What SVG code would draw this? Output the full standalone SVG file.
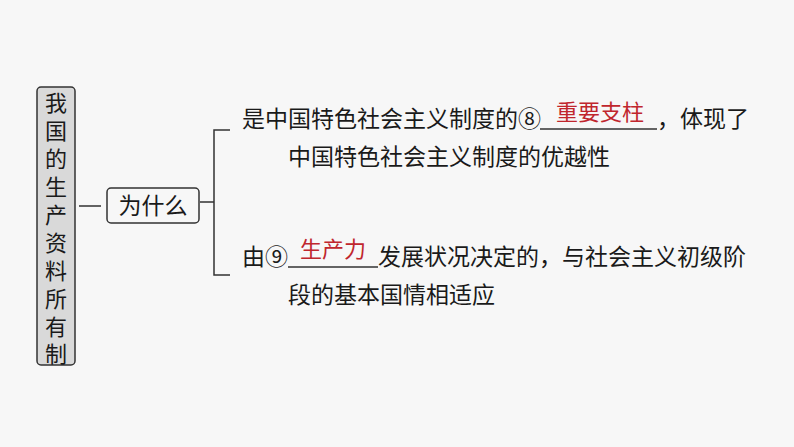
<svg xmlns="http://www.w3.org/2000/svg" width="794" height="447" viewBox="0 0 794 447">
<style>
.t{font-family:"Noto Sans CJK SC","Noto Sans",sans-serif;font-size:23px;fill:#1a1a1a}
.v{font-family:"Noto Sans CJK SC",sans-serif;font-size:22px;fill:#1a1a1a}
.r{font-family:"Noto Sans CJK SC",sans-serif;font-size:22px;fill:#c0262d}
.l{stroke:#333;stroke-width:1.5;fill:none}
</style>
<rect width="794" height="447" fill="#f7f7f7"/>
<g id="root">
<rect x="37" y="87" width="38" height="278" rx="4" fill="#d9d9d9" stroke="#333" stroke-width="1.5"/>
<text class="v" text-anchor="middle"><tspan x="56" y="111">我</tspan><tspan x="56" y="139">国</tspan><tspan x="56" y="167">的</tspan><tspan x="56" y="195">生</tspan><tspan x="56" y="223">产</tspan><tspan x="56" y="251">资</tspan><tspan x="56" y="279">料</tspan><tspan x="56" y="307">所</tspan><tspan x="56" y="335">有</tspan><tspan x="56" y="362">制</tspan></text>
</g>
<g id="why">
<rect x="107" y="188" width="92" height="35" rx="4" fill="#f7f7f7" stroke="#333" stroke-width="1.5"/>
<text class="t" x="153" y="214" text-anchor="middle">为什么</text>
</g>
<g id="connectors">
<path class="l" d="M79 206H101M200 202H214M230 130H214V275H230"/>
</g>
<g id="a1">
<text class="t" x="242" y="127">是中国特色社会主义制度的⑧</text>
<line class="l" x1="540" y1="129" x2="657" y2="129" stroke-width="1"/>
<text class="r" x="600" y="120" text-anchor="middle">重要支柱</text>
<text class="t" x="657" y="127">，体现了</text>
<text class="t" x="288" y="165">中国特色社会主义制度的优越性</text>
</g>
<g id="a2">
<text class="t" x="242" y="265">由⑨</text>
<line class="l" x1="288" y1="267" x2="378" y2="267" stroke-width="1"/>
<text class="r" x="333" y="257" text-anchor="middle">生产力</text>
<text class="t" x="378" y="265">发展状况决定的，与社会主义初级阶</text>
<text class="t" x="288" y="303">段的基本国情相适应</text>
</g>
</svg>
